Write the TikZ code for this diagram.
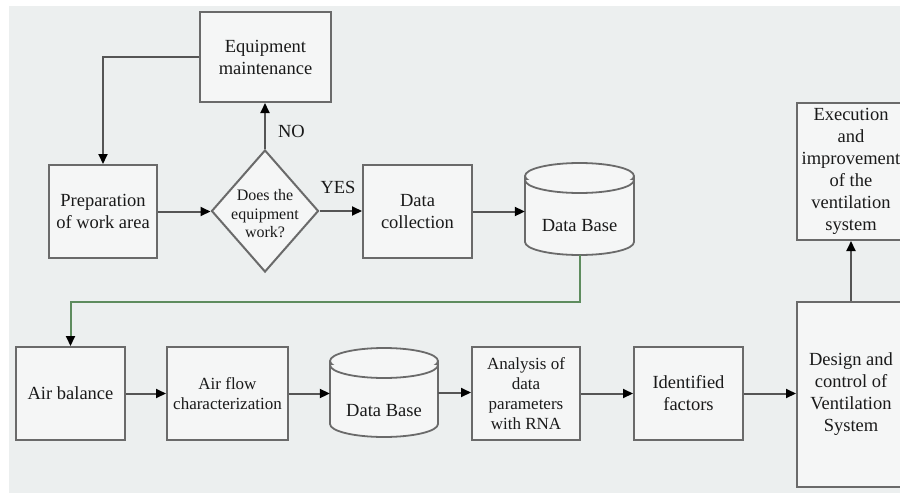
\documentclass[tikz,border=0pt]{standalone}
\usepackage{fontspec}
\setmainfont{Liberation Serif}
\usetikzlibrary{arrows.meta,shapes.geometric}

\definecolor{pagebg}{HTML}{ECEFEF}
\definecolor{boxfill}{HTML}{F5F6F6}
\definecolor{boxedge}{HTML}{6A6A6A}
\definecolor{wire}{HTML}{555555}
\definecolor{greenwire}{HTML}{5E8C5E}
\definecolor{ink}{HTML}{1A1A1A}

% cylinder outline: left, right, top, bottom (y grows downwards)
\newcommand\dbshape[4]{%
  \pgfmathsetmacro\dbrx{(#2-#1)/2}%
  \filldraw[dbline] (#1,#3+13) -- (#1,#4-13)
    arc[start angle=180,end angle=360,x radius=\dbrx pt,y radius=13pt]
    -- (#2,#3+13)
    arc[start angle=0,end angle=180,x radius=\dbrx pt,y radius=13pt] -- cycle;
  \draw[dbline] (#1,#3+13)
    arc[start angle=180,end angle=360,x radius=\dbrx pt,y radius=13pt];
  \draw[dbline] (#1,#3+17)
    arc[start angle=180,end angle=360,x radius=\dbrx pt,y radius=13pt];
}

\begin{document}
\begin{tikzpicture}[x=1pt,y=-1pt,
  txt/.style={text=ink,align=center,inner sep=0pt,font=\fontsize{18.5}{22}\selectfont},
  smalltxt/.style={text=ink,align=center,inner sep=0pt,font=\fontsize{17}{20}\selectfont},
  box/.style={draw=boxedge,line width=2pt,fill=boxfill,inner sep=0pt},
  dbline/.style={draw=boxedge,line width=1.8pt,fill=boxfill},
  hold/.style={inner sep=0pt},
  flow/.style={draw=wire,line width=2pt,-{Triangle[length=10pt,width=9pt,color=black]}},
  greenflow/.style={draw=greenwire,line width=2pt,-{Triangle[length=10pt,width=9pt,color=black]}}]

\useasboundingbox (0,0) rectangle (900,493);
\clip (0,0) rectangle (900,493);
\fill[white] (0,0) rectangle (900,493);
\fill[pagebg] (9,6) rectangle (900,493);

% upper row
\node[box,txt,minimum width=131pt,minimum height=90pt] (eq) at (265.5,57) {Equipment\\maintenance};
\node[box,txt,minimum width=108pt,minimum height=93pt] (prep) at (103,211.5) {Preparation\\of work area};
\node[diamond,draw=boxedge,line width=2pt,fill=boxfill,inner sep=0pt,minimum width=107pt,minimum height=122pt] (dec) at (265,211) {};
\node[text=ink,align=center,inner sep=0pt,font=\fontsize{16}{18.5}\selectfont] at (265,214) {Does the\\equipment\\work?};
\node[box,txt,minimum width=109pt,minimum height=93pt] (dc) at (417.5,211.5) {Data\\collection};
\dbshape{525}{634}{163}{255}
\node[hold,minimum width=109pt,minimum height=92pt] (db1) at (579.5,209) {};
\node[txt] at (579.5,226) {Data Base};
\node[box,txt,minimum width=108pt,minimum height=137pt] (exe) at (851,171.5) {Execution\\and\\improvement\\of the\\ventilation\\system};

% lower row
\node[box,txt,minimum width=109pt,minimum height=93pt] (ab) at (70.5,393.5) {Air balance};
\node[box,smalltxt,minimum width=121pt,minimum height=93pt] (af) at (227.5,393.5) {Air flow\\characterization};
\dbshape{330}{438}{348}{437}
\node[hold,minimum width=108pt,minimum height=89pt] (db2) at (384,392.5) {};
\node[txt] at (384,411) {Data Base};
\node[box,smalltxt,minimum width=108pt,minimum height=93pt] (an) at (526,393.5) {Analysis of\\data\\parameters\\with RNA};
\node[box,txt,minimum width=109pt,minimum height=93pt] (idf) at (688.5,393.5) {Identified\\factors};
\node[box,txt,minimum width=108pt,minimum height=185pt] (des) at (851,394.5) {Design and\\control of\\Ventilation\\System};

% connectors
\draw[flow] (eq.west) -| (prep.north);
\draw[flow] (prep.east) -- (prep.east -| dec.west);
\draw[flow] (dec.north) -- (dec.north |- eq.south);
\draw[flow] (dec.east) -- (dec.east -| dc.west);
\draw[flow] (dc.east) -- (dc.east -| db1.west);
\node[txt] (no) at (291.5,131) {NO};
\node[txt] (yes) at (338,187) {YES};

\draw[greenflow] (db1.south) -- ++(0,47) -| (ab.north);

\draw[flow] (ab.east) -- (ab.east -| af.west);
\draw[flow] (af.east) -- (af.east -| db2.west);
\draw[flow] (db2.east) -- (db2.east -| an.west);
\draw[flow] (an.east) -- (an.east -| idf.west);
\draw[flow] (idf.east) -- (idf.east -| des.west);
\draw[flow] (des.north) -- (exe.south);
\end{tikzpicture}
\end{document}
